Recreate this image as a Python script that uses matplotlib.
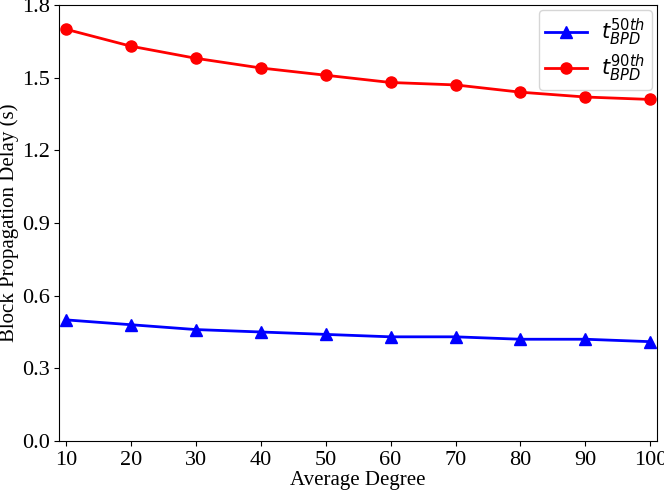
import matplotlib
matplotlib.use("Agg")
import matplotlib.pyplot as plt

degree = [10, 20, 30, 40, 50, 60, 70, 80, 90, 100]
bpd50 = [0.50, 0.48, 0.46, 0.45, 0.44, 0.43, 0.43, 0.42, 0.42, 0.41]
bpd90 = [1.70, 1.63, 1.58, 1.54, 1.51, 1.48, 1.47, 1.44, 1.42, 1.41]
yticks = [0.0, 0.3, 0.6, 0.9, 1.2, 1.5, 1.8]

plt.rcParams['font.family'] = ['Liberation Serif', 'DejaVu Serif']

fig = plt.figure(figsize=(6.64, 4.98), dpi=100)
ax = fig.add_axes([0.0893, 0.1145, 0.900, 0.8755])

ax.plot(degree, bpd50, color='blue', marker='^', markersize=8, linewidth=2,
        label=r'$t_{BPD}^{50th}$')
ax.plot(degree, bpd90, color='red', marker='o', markersize=8, linewidth=2,
        label=r'$t_{BPD}^{90th}$')

ax.set_xlim(9, 101)
ax.set_ylim(0, 1.8)
ax.set_xticks(degree)
ax.set_yticks(yticks)
ax.set_yticklabels([f"{v:.1f}" for v in yticks])
ax.tick_params(labelsize=16)
ax.set_xlabel("Average Degree", fontsize=15, labelpad=1)
ax.set_ylabel("Block Propagation Delay (s)", fontsize=15, labelpad=2)
ax.legend(loc='upper right', fontsize=15, labelspacing=0.25, borderpad=0.3,
          handlelength=2.0, handletextpad=0.7, borderaxespad=0.25)

fig.savefig("out.png", dpi=100)
